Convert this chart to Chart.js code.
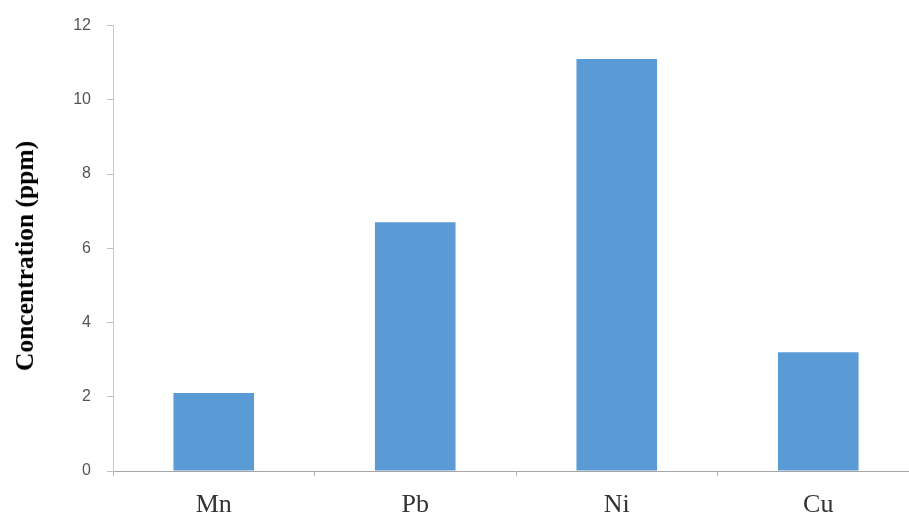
<!DOCTYPE html>
<html>
<head>
<meta charset="utf-8">
<script src="https://cdn.jsdelivr.net/npm/chart.js@4/dist/chart.umd.min.js"></script>
<style>
  html, body { margin: 0; padding: 0; width: 909px; height: 514px; overflow: hidden; background: #fff; }
  #wrap { position: absolute; left: 0; top: 0; width: 919px; height: 514px; }
  #ytitle {
    position: absolute; left: 25px; top: 256px;
    transform: translate(-50%, -50%) rotate(-90deg);
    white-space: nowrap;
    font: bold 25.5px "Liberation Serif", "Times New Roman", serif;
    color: #000;
  }
</style>
</head>
<body>
<div id="wrap"><canvas id="c" width="919" height="514"></canvas></div>
<div id="ytitle">Concentration (ppm)</div>
<script>
const categories = ["Mn", "Pb", "Ni", "Cu"];
const concentrations = [2.1, 6.7, 11.1, 3.2];
const yTickValues = [0, 2, 4, 6, 8, 10, 12];
const yAxisTitle = "Concentration (ppm)";

new Chart(document.getElementById("c"), {
  type: "bar",
  data: {
    labels: categories,
    datasets: [{
      label: yAxisTitle,
      data: concentrations,
      backgroundColor: "#5B9BD5",
      borderWidth: 0,
      barPercentage: 0.40,
      categoryPercentage: 1.0
    }]
  },
  options: {
    responsive: false,
    animation: false,
    layout: { padding: { top: 24, right: 0, bottom: 0, left: 0 } },
    plugins: { legend: { display: false }, tooltip: { enabled: false }, title: { display: false } },
    scales: {
      x: {
        grid: { offset: true, drawOnChartArea: false, drawTicks: true, tickLength: 5, color: "#b0b0b0" },
        border: { display: true, color: "#a6a6a6", width: 1 },
        ticks: {
          color: "#333333",
          padding: 14,
          font: { family: "'Liberation Serif', 'Times New Roman', serif", size: 26 }
        },
        afterFit: (s) => { s.height = 43; }
      },
      y: {
        min: 0, max: 12,
        afterBuildTicks: (s) => { s.ticks = yTickValues.map(v => ({ value: v })); },
        grid: { drawOnChartArea: false, drawTicks: true, tickLength: 6, color: "#bfbfbf" },
        border: { display: true, color: "#c8c8c8", width: 1 },
        ticks: {
          color: "#555555",
          padding: 16,
          font: { family: "'Liberation Sans', Arial, sans-serif", size: 16 }
        },
        afterFit: (s) => { s.width = 113; }
      }
    }
  }
});
</script>
</body>
</html>
